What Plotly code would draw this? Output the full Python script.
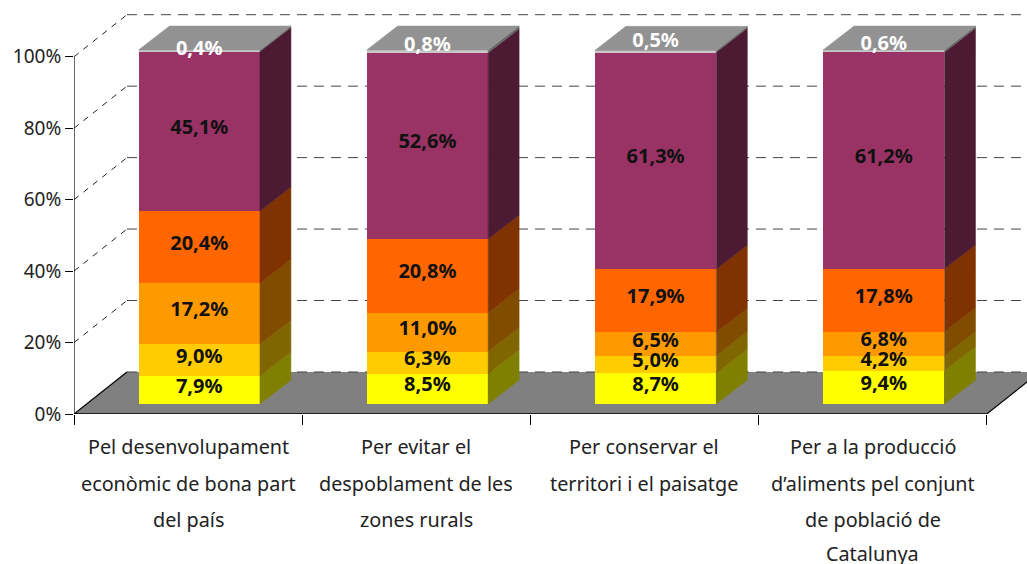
import plotly.graph_objects as go

categories = [
    ["Pel desenvolupament", "econòmic de bona part", "del país"],
    ["Per evitar el", "despoblament de les", "zones rurals"],
    ["Per conservar el", "territori i el paisatge"],
    ["Per a la producció", "d’aliments pel conjunt", "de població de", "Catalunya"],
]
y_ticks = [0, 20, 40, 60, 80, 100]
y_tick_labels = ["0%", "20%", "40%", "60%", "80%", "100%"]

s1 = [7.9, 8.5, 8.7, 9.4]
s2 = [9.0, 6.3, 5.0, 4.2]
s3 = [17.2, 11.0, 6.5, 6.8]
s4 = [20.4, 20.8, 17.9, 17.8]
s5 = [45.1, 52.6, 61.3, 61.2]
s6 = [0.4, 0.8, 0.5, 0.6]
series = [s1, s2, s3, s4, s5, s6]

front_colors = ["#FFFF00", "#FFCC00", "#FF9900", "#FF6600", "#993366", "#C8C8C8"]
side_colors = ["#808000", "#806600", "#804D00", "#803300", "#4D1A33", "#666666"]
top_color = "#929292"

# pixel geometry of the picture
W, H = 1027, 564
L, B, T = 73.5, 413.7, 8
cat_w = 228.3
px_y = 3.57          # px per 1% on the axis wall
bar_px_y = 3.537     # px per 1% on the bars' front plane
bar_c0 = 198.8       # pixel centre of first bar
bar_bottom = 403.7
wall_dx = 53 / cat_w
wall_dy = 42 / px_y
bar_dx = 31 / cat_w
bar_dy = 24 / bar_px_y
bar_w = 121.5 / cat_w
label_lift = 0.7
top_lift = [0.3, 1.6, 2.7, 1.6]

fig = go.Figure()


def line(xs, ys, color="#000000", width=1, dash="solid"):
    fig.add_trace(go.Scatter(x=xs, y=ys, mode="lines", showlegend=False, hoverinfo="skip",
                             line=dict(color=color, width=width, dash=dash)))


# floor
fig.add_trace(go.Scatter(x=[0, wall_dx, 4 + wall_dx, 4, 0], y=[0, wall_dy, wall_dy, 0, 0],
                         mode="lines", fill="toself", fillcolor="#808080", showlegend=False,
                         hoverinfo="skip", line=dict(color="rgba(0,0,0,0)", width=0)))
# wall gridlines
for v in y_ticks:
    if v:
        line([0, wall_dx], [v, v + wall_dy], "#222222", 1, "6px,6px")
    line([wall_dx, 4 + wall_dx], [v + wall_dy, v + wall_dy], "#444444", 1, "10px,7px")
line([0, wall_dx], [0, wall_dy], "#000000", 1.2)
line([4, 4 + wall_dx], [0, wall_dy], "#000000", 1.2)
line([0, 0], [0, 100], "#000000", 1.2)
line([0, 4], [0, 0], "#000000", 1.5)

# front faces of the bars
xs = list(range(4))
for vals, col in zip(series, front_colors):
    fig.add_trace(go.Bar(x=xs, y=vals, width=bar_w, marker=dict(color=col, line=dict(width=0)),
                         xaxis="x2", yaxis="y2", showlegend=False, hoverinfo="skip"))

# side and top faces
base = [0.0] * 4
label_x, label_y, label_text, label_col = [], [], [], []
for si, (vals, col) in enumerate(zip(series, side_colors)):
    for i, v in enumerate(vals):
        xr = i + bar_w / 2
        y0, y1 = base[i], base[i] + v
        fig.add_trace(go.Scatter(
            x=[xr, xr + bar_dx, xr + bar_dx, xr, xr], y=[y0, y0 + bar_dy, y1 + bar_dy, y1, y0],
            mode="lines", fill="toself", fillcolor=col, line=dict(color=col, width=0.5),
            xaxis="x2", yaxis="y2", showlegend=False, hoverinfo="skip"))
        label_x.append(i)
        lift = top_lift[i] if si == 5 else label_lift
        label_y.append((y0 + y1) / 2 + lift)
        label_text.append(f"{v:.1f}%".replace(".", ","))
        label_col.append("#FFFFFF" if si == 5 else "#111111")
        base[i] = y1
for i, top in enumerate(base):
    xl, xr = i - bar_w / 2, i + bar_w / 2
    fig.add_trace(go.Scatter(
        x=[xl, xl + bar_dx, xr + bar_dx, xr, xl], y=[top, top + bar_dy, top + bar_dy, top, top],
        mode="lines", fill="toself", fillcolor=top_color, line=dict(color=top_color, width=0.5),
        xaxis="x2", yaxis="y2", showlegend=False, hoverinfo="skip"))

# data labels
fig.add_trace(go.Scatter(x=label_x, y=label_y, text=label_text, mode="text", textposition="middle center",
                         textfont=dict(family="Noto Sans", size=20, color=label_col, weight="bold"),
                         xaxis="x2", yaxis="y2", showlegend=False, hoverinfo="skip"))

# category labels, one annotation per line
line_y = [446, 483, 519, 553]
for i, lines in enumerate(categories):
    for j, txt in enumerate(lines):
        fig.add_annotation(x=i + 0.5, xref="x", y=(B - line_y[j]) / (B - T), yref="paper", text=txt,
                           showarrow=False, xanchor="center", yanchor="middle",
                           font=dict(family="Noto Sans", size=19.8, color="#222222"))

fig.update_layout(
    width=W, height=H, plot_bgcolor="#FFFFFF", paper_bgcolor="#FFFFFF", barmode="stack", bargap=0,
    margin=dict(l=L, r=0, t=T, b=H - B, pad=0), showlegend=False,
    xaxis=dict(range=[0, (W - L) / cat_w], tickvals=[0, 1, 2, 3, 4], ticks="outside", ticklen=10,
               tickcolor="#000000", tickwidth=1, showticklabels=False, showgrid=False,
               zeroline=False, showline=False),
    yaxis=dict(range=[0, (B - T) / px_y], tickvals=y_ticks, ticktext=y_tick_labels, ticks="outside",
               ticklen=8, tickcolor="#000000", tickwidth=1, showgrid=False, zeroline=False,
               showline=False, tickfont=dict(family="Noto Sans", size=19, color="#222222")),
    xaxis2=dict(overlaying="x", anchor="y2", visible=False,
                range=[(L - bar_c0) / cat_w, (W - bar_c0) / cat_w]),
    yaxis2=dict(overlaying="y", anchor="x2", visible=False,
                range=[-(B - bar_bottom) / bar_px_y, (bar_bottom - T) / bar_px_y]),
)
fig.write_html("out.html", post_script="document.body.style.margin='0';",
               config=dict(displayModeBar=False))
